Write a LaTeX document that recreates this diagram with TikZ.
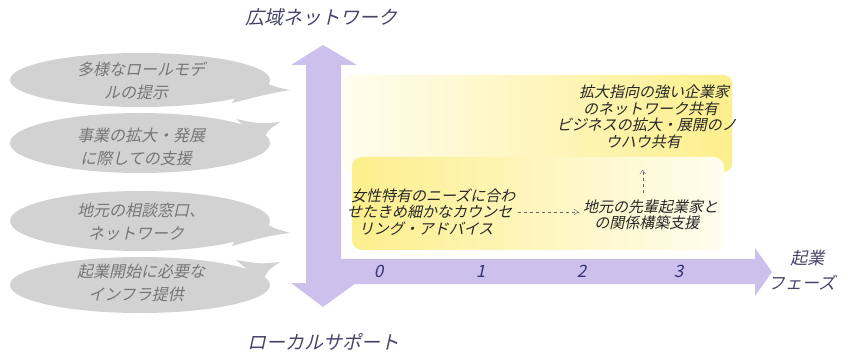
\documentclass[tikz,border=0pt]{standalone}
\usepackage{fontspec}
\newfontfamily\jp{Noto Sans CJK JP}
\usetikzlibrary{arrows.meta}
\definecolor{arrowpurple}{RGB}{204,193,236}
\definecolor{bubblegray}{RGB}{210,210,210}
\definecolor{bubbletext}{RGB}{118,118,118}
\definecolor{titletext}{RGB}{70,68,105}
\definecolor{numtext}{RGB}{52,50,115}
\definecolor{softyellow}{RGB}{252,236,120}
\tikzset{
  slanted/.style={xslant=0.22, transform shape},
  bubble/.style={fill=bubblegray},
  bubbletxt/.style={slanted, font=\jp\fontsize{16}{23}\selectfont, text=bubbletext, align=center, inner sep=0pt},
  titletxt/.style={slanted, font=\jp\fontsize{19}{22}\selectfont, text=titletext, inner sep=0pt},
  numtxt/.style={slanted, font=\jp\fontsize{17}{20}\selectfont, text=numtext, inner sep=0pt},
  phasetxt/.style={slanted, font=\jp\fontsize{17}{25}\selectfont, text=titletext, align=center, inner sep=0pt},
  innertxt/.style={slanted, font=\jp\fontsize{15}{16.5}\selectfont, text=black!85, align=center, inner sep=1pt},
  dasharrow/.style={dashed, draw=black!60, thin, -{Straight Barb[length=4pt,width=6pt]}}
}
\begin{document}
\begin{tikzpicture}[x=1pt,y=-1pt]
\useasboundingbox (0,0) rectangle (849,358);
% yellow areas
\shade[rounded corners=8pt, left color=softyellow!12, right color=softyellow!85] (343,75) rectangle (732,172);
\shade[top color=white, bottom color=white, opacity=0.0] (343,75) rectangle (732,172);
\shade[rounded corners=10pt, left color=softyellow!85, right color=softyellow!12] (352,157) rectangle (724,250);
% bubbles
\fill[bubble] (140,80) ellipse [x radius=130, y radius=27];
\fill[bubble] (250,72) .. controls (270,86) .. (290,90) .. controls (268,94) .. (232,103) -- cycle;
\fill[bubble] (140,143) ellipse [x radius=130, y radius=30];
\fill[bubble] (236,119) .. controls (260,124) .. (280,122) .. controls (268,130) .. (262,142) -- cycle;
\fill[bubble] (140,221) ellipse [x radius=130, y radius=30];
\fill[bubble] (250,212) .. controls (270,227) .. (290,233) .. controls (268,236) .. (232,246) -- cycle;
\fill[bubble] (140,285) ellipse [x radius=130, y radius=28];
\fill[bubble] (236,260) .. controls (260,264) .. (280,262) .. controls (268,270) .. (262,282) -- cycle;
\node[bubbletxt] (b1) at (140,81) {多様なロールモデ\\ルの提示};
\node[bubbletxt] (b2) at (140,147) {事業の拡大・発展\\に際しての支援};
\node[bubbletxt] (b3) at (140,222) {地元の相談窓口、\\ネットワーク};
\node[bubbletxt] (b4) at (140,283) {起業開始に必要な\\インフラ提供};
% axes
\fill[arrowpurple] (323,45) -- (357,65) -- (341,65) -- (341,259) -- (755,259) -- (755,248)
  -- (772,272) -- (755,296) -- (755,284) -- (341,284) -- (341,283) -- (356,283)
  -- (323,307) -- (291,283) -- (306,283) -- (306,65) -- (291,65) -- cycle;
\node[titletxt] (top) at (323,17) {広域ネットワーク};
\node[titletxt] (bottom) at (325,342) {ローカルサポート};
\node[phasetxt] (phase) at (806,270) {起業\\フェーズ};
\node[numtxt] (n0) at (380,271) {0};
\node[numtxt] (n1) at (482,271) {1};
\node[numtxt] (n2) at (583,271) {2};
\node[numtxt] (n3) at (680,271) {3};
% inner texts
\node[innertxt] (tt) at (650,117) {拡大指向の強い企業家\\のネットワーク共有\\ビジネスの拡大・展開のノ\\ウハウ共有};
\node[innertxt] (lt) at (431,212) {女性特有のニーズに合わ\\せたきめ細かなカウンセ\\リング・アドバイス};
\node[innertxt] (mt) at (650,215) {地元の先輩起業家と\\の関係構築支援};
\draw[dasharrow, shorten <=3pt, shorten >=3pt] (lt.east) -- (lt.east -| mt.west);
\draw[dasharrow, shorten <=6pt, shorten >=20pt] (mt.north -| tt.south) -- (tt.south);
\end{tikzpicture}
\end{document}
